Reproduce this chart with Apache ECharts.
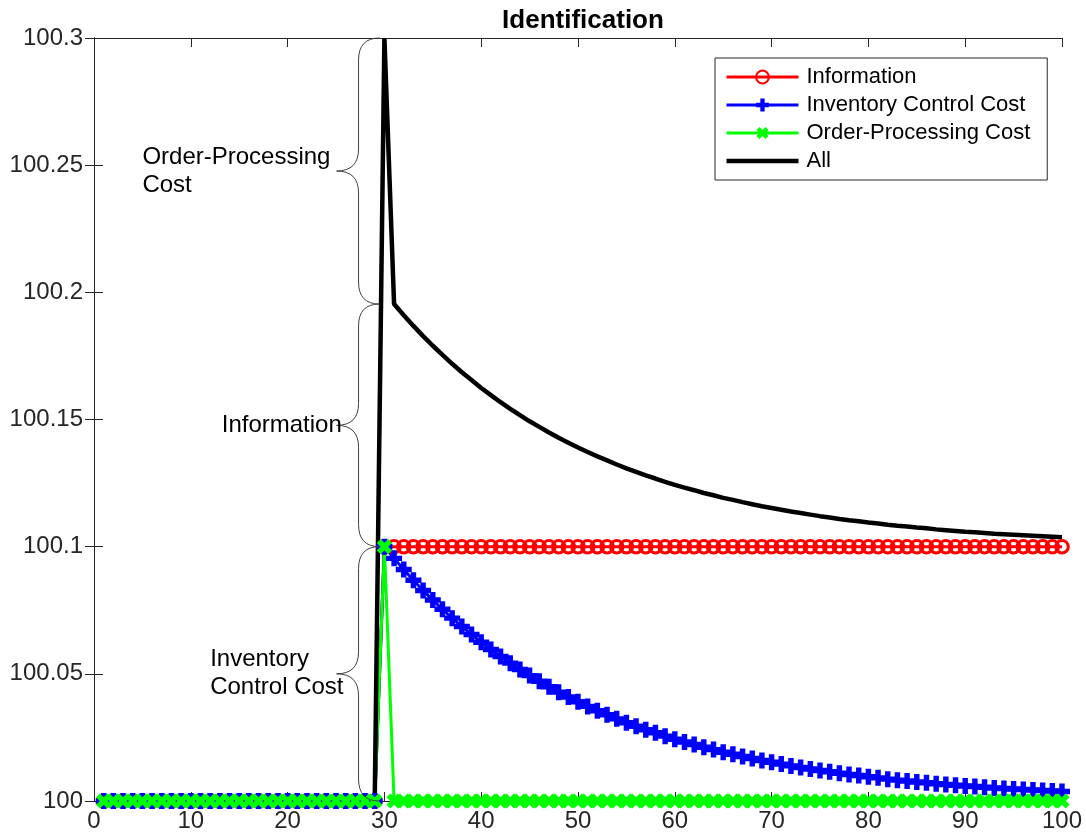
<!DOCTYPE html>
<html>
<head>
<meta charset="utf-8">
<title>Identification</title>
<script src="https://cdn.jsdelivr.net/npm/echarts@6/dist/echarts.min.js"></script>
<style>
  html, body { margin: 0; padding: 0; background: #fff; }
  #chart { width: 1086px; height: 840px; }
</style>
</head>
<body>
<div id="chart"></div>
<script>
const FONT = "'Liberation Sans', Arial, Helvetica, sans-serif";
const AXIS_COLOR = "#262626";

// x = period index
const X = [
  1, 2, 3, 4, 5, 6, 7, 8, 9, 10,
  11, 12, 13, 14, 15, 16, 17, 18, 19, 20,
  21, 22, 23, 24, 25, 26, 27, 28, 29, 30,
  31, 32, 33, 34, 35, 36, 37, 38, 39, 40,
  41, 42, 43, 44, 45, 46, 47, 48, 49, 50,
  51, 52, 53, 54, 55, 56, 57, 58, 59, 60,
  61, 62, 63, 64, 65, 66, 67, 68, 69, 70,
  71, 72, 73, 74, 75, 76, 77, 78, 79, 80,
  81, 82, 83, 84, 85, 86, 87, 88, 89, 90,
  91, 92, 93, 94, 95, 96, 97, 98, 99, 100,
];

const INFORMATION = [
  100, 100, 100, 100, 100, 100, 100, 100, 100, 100,
  100, 100, 100, 100, 100, 100, 100, 100, 100, 100,
  100, 100, 100, 100, 100, 100, 100, 100, 100, 100.1,
  100.1, 100.1, 100.1, 100.1, 100.1, 100.1, 100.1, 100.1, 100.1, 100.1,
  100.1, 100.1, 100.1, 100.1, 100.1, 100.1, 100.1, 100.1, 100.1, 100.1,
  100.1, 100.1, 100.1, 100.1, 100.1, 100.1, 100.1, 100.1, 100.1, 100.1,
  100.1, 100.1, 100.1, 100.1, 100.1, 100.1, 100.1, 100.1, 100.1, 100.1,
  100.1, 100.1, 100.1, 100.1, 100.1, 100.1, 100.1, 100.1, 100.1, 100.1,
  100.1, 100.1, 100.1, 100.1, 100.1, 100.1, 100.1, 100.1, 100.1, 100.1,
  100.1, 100.1, 100.1, 100.1, 100.1, 100.1, 100.1, 100.1, 100.1, 100.1,
];

const INVENTORY = [
  100, 100, 100, 100, 100, 100, 100, 100, 100, 100,
  100, 100, 100, 100, 100, 100, 100, 100, 100, 100,
  100, 100, 100, 100, 100, 100, 100, 100, 100, 100.1,
  100.0954, 100.0910, 100.0868, 100.0828, 100.0790, 100.0754, 100.0719, 100.0686, 100.0655, 100.0624,
  100.0596, 100.0568, 100.0542, 100.0517, 100.0493, 100.0471, 100.0449, 100.0428, 100.0409, 100.0390,
  100.0372, 100.0355, 100.0339, 100.0323, 100.0308, 100.0294, 100.0280, 100.0268, 100.0255, 100.0243,
  100.0232, 100.0222, 100.0211, 100.0202, 100.0192, 100.0184, 100.0175, 100.0167, 100.0159, 100.0152,
  100.0145, 100.0138, 100.0132, 100.0126, 100.0120, 100.0115, 100.0109, 100.0104, 100.0100, 100.0095,
  100.0091, 100.0086, 100.0082, 100.0079, 100.0075, 100.0072, 100.0068, 100.0065, 100.0062, 100.0059,
  100.0057, 100.0054, 100.0051, 100.0049, 100.0047, 100.0045, 100.0043, 100.0041, 100.0039, 100.0037,
];

const ORDER_PROCESSING = [
  100, 100, 100, 100, 100, 100, 100, 100, 100, 100,
  100, 100, 100, 100, 100, 100, 100, 100, 100, 100,
  100, 100, 100, 100, 100, 100, 100, 100, 100, 100.1,
  100, 100, 100, 100, 100, 100, 100, 100, 100, 100,
  100, 100, 100, 100, 100, 100, 100, 100, 100, 100,
  100, 100, 100, 100, 100, 100, 100, 100, 100, 100,
  100, 100, 100, 100, 100, 100, 100, 100, 100, 100,
  100, 100, 100, 100, 100, 100, 100, 100, 100, 100,
  100, 100, 100, 100, 100, 100, 100, 100, 100, 100,
  100, 100, 100, 100, 100, 100, 100, 100, 100, 100,
];

const ALL = [
  100, 100, 100, 100, 100, 100, 100, 100, 100, 100,
  100, 100, 100, 100, 100, 100, 100, 100, 100, 100,
  100, 100, 100, 100, 100, 100, 100, 100, 100, 100.3,
  100.1954, 100.1910, 100.1868, 100.1828, 100.1790, 100.1754, 100.1719, 100.1686, 100.1655, 100.1624,
  100.1596, 100.1568, 100.1542, 100.1517, 100.1493, 100.1471, 100.1449, 100.1428, 100.1409, 100.1390,
  100.1372, 100.1355, 100.1339, 100.1323, 100.1308, 100.1294, 100.1280, 100.1268, 100.1255, 100.1243,
  100.1232, 100.1222, 100.1211, 100.1202, 100.1192, 100.1184, 100.1175, 100.1167, 100.1159, 100.1152,
  100.1145, 100.1138, 100.1132, 100.1126, 100.1120, 100.1115, 100.1109, 100.1104, 100.1100, 100.1095,
  100.1091, 100.1086, 100.1082, 100.1079, 100.1075, 100.1072, 100.1068, 100.1065, 100.1062, 100.1059,
  100.1057, 100.1054, 100.1051, 100.1049, 100.1047, 100.1045, 100.1043, 100.1041, 100.1039, 100.1037,
];

// curly-brace annotations (in data units)
const BRACE_X = [29.5, 29.5, 29.5];
const BRACE_LOW = [100.1954, 100.1, 100];
const BRACE_HIGH = [100.3, 100.1954, 100.1];
const BRACE_LABELS = ["Order-Processing\nCost", "Information", "Inventory\nControl Cost"];
const LABEL_X = [5, 25.6, 12];
const LABEL_ALIGN = ["left", "right", "left"];

const PLUS = "path://M3.3,0L6.7,0L6.7,3.3L10,3.3L10,6.7L6.7,6.7L6.7,10L3.3,10L3.3,6.7L0,6.7L0,3.3L3.3,3.3Z";

const pairs = (ys) => X.map((x, i) => [x, ys[i]]);

function renderBrace(params, api) {
  const i = params.dataIndex;
  const top = api.coord([api.value(0), api.value(2)]);
  const bot = api.coord([api.value(0), api.value(1)]);
  const lab = api.coord([api.value(3), api.value(1)]);
  const xR = top[0];
  const xM = xR - 21;
  const xT = xR - 43;
  const yT = top[1];
  const yB = bot[1];
  const yC = (yT + yB) / 2;
  const r = 22;
  const st = { stroke: "#404040", lineWidth: 1, fill: null };
  return {
    type: "group",
    children: [
      { type: "bezierCurve", shape: { x1: xR, y1: yT, x2: xM, y2: yT + r, cpx1: xM, cpy1: yT }, style: st },
      { type: "line", shape: { x1: xM, y1: yT + r, x2: xM, y2: yC - r }, style: st },
      { type: "bezierCurve", shape: { x1: xM, y1: yC - r, x2: xT, y2: yC, cpx1: xM, cpy1: yC }, style: st },
      { type: "bezierCurve", shape: { x1: xT, y1: yC, x2: xM, y2: yC + r, cpx1: xM, cpy1: yC }, style: st },
      { type: "line", shape: { x1: xM, y1: yC + r, x2: xM, y2: yB - r }, style: st },
      { type: "bezierCurve", shape: { x1: xM, y1: yB - r, x2: xR, y2: yB, cpx1: xM, cpy1: yB }, style: st },
      {
        type: "text",
        x: lab[0],
        y: yC,
        style: {
          text: BRACE_LABELS[i],
          fill: "#000",
          fontSize: 24,
          fontFamily: FONT,
          lineHeight: 28,
          align: LABEL_ALIGN[i],
          verticalAlign: "middle",
        },
      },
    ],
  };
}

const axisCommon = {
  axisLine: { show: true, lineStyle: { color: AXIS_COLOR, width: 1 } },
  axisTick: { show: true, inside: true, length: 9, lineStyle: { color: AXIS_COLOR, width: 1 } },
  splitLine: { show: false },
};

const chart = echarts.init(document.getElementById("chart"), null, { renderer: "canvas" });

chart.setOption({
  animation: false,
  backgroundColor: "#fff",
  title: {
    text: "Identification",
    left: 578,
    top: 3,
    textAlign: "center",
    textStyle: { fontSize: 26, fontWeight: "bold", fontFamily: FONT, color: "#000" },
  },
  legend: {
    orient: "vertical",
    left: 715,
    top: 58,
    padding: [8, 17, 8, 10],
    itemWidth: 72,
    itemHeight: 16,
    itemGap: 6,
    borderColor: AXIS_COLOR,
    borderWidth: 1,
    backgroundColor: "#fff",
    lineStyle: { width: 3 },
    textStyle: { fontSize: 22, fontFamily: FONT, color: "#000", lineHeight: 22, padding: [0, 0, 0, 3] },
    data: [
      "Information",
      "Inventory Control Cost",
      "Order-Processing Cost",
      { name: "All", icon: "path://M0,0L72,0L72,4.5L0,4.5Z" },
    ],
  },
  grid: { left: 94, right: 24, top: 38, bottom: 39 },
  xAxis: [
    {
      type: "value",
      min: 0,
      max: 100,
      interval: 10,
      position: "bottom",
      ...axisCommon,
      axisLabel: { color: AXIS_COLOR, fontSize: 24, fontFamily: FONT, margin: 8 },
    },
    {
      type: "value",
      min: 0,
      max: 100,
      interval: 10,
      position: "top",
      ...axisCommon,
      axisLabel: { show: false },
    },
  ],
  yAxis: [
    {
      type: "value",
      min: 100,
      max: 100.3,
      interval: 0.05,
      position: "left",
      ...axisCommon,
      axisLabel: {
        color: AXIS_COLOR,
        fontSize: 24,
        fontFamily: FONT,
        margin: 11,
        formatter: (v) => String(Math.round(v * 100) / 100),
      },
    },
    {
      type: "value",
      min: 100,
      max: 100.3,
      interval: 0.05,
      position: "right",
      ...axisCommon,
      axisLabel: { show: false },
    },
  ],
  series: [
    {
      name: "Information",
      type: "line",
      data: pairs(INFORMATION),
      clip: false,
      color: "#ff0000",
      symbol: "circle",
      symbolSize: 12.5,
      lineStyle: { color: "#ff0000", width: 3 },
      itemStyle: { color: "rgba(255,255,255,0)", borderColor: "#ff0000", borderWidth: 3 },
    },
    {
      name: "Inventory Control Cost",
      type: "line",
      data: pairs(INVENTORY),
      clip: false,
      color: "#0000ff",
      symbol: PLUS,
      symbolSize: 16,
      lineStyle: { color: "#0000ff", width: 3 },
      itemStyle: { color: "#0000ff" },
    },
    {
      name: "Order-Processing Cost",
      type: "line",
      data: pairs(ORDER_PROCESSING),
      clip: false,
      color: "#00ff00",
      symbol: PLUS,
      symbolSize: 16,
      symbolRotate: 45,
      lineStyle: { color: "#00ff00", width: 3 },
      itemStyle: { color: "#00ff00" },
    },
    {
      name: "All",
      type: "line",
      data: pairs(ALL),
      clip: false,
      color: "#000000",
      symbol: "none",
      lineStyle: { color: "#000000", width: 4.5 },
    },
    {
      name: "braces",
      type: "custom",
      renderItem: renderBrace,
      clip: false,
      silent: true,
      encode: { x: [0, 3], y: [1, 2] },
      data: BRACE_X.map((x, i) => [x, BRACE_LOW[i], BRACE_HIGH[i], LABEL_X[i]]),
      z: 5,
    },
  ],
});
</script>
</body>
</html>
